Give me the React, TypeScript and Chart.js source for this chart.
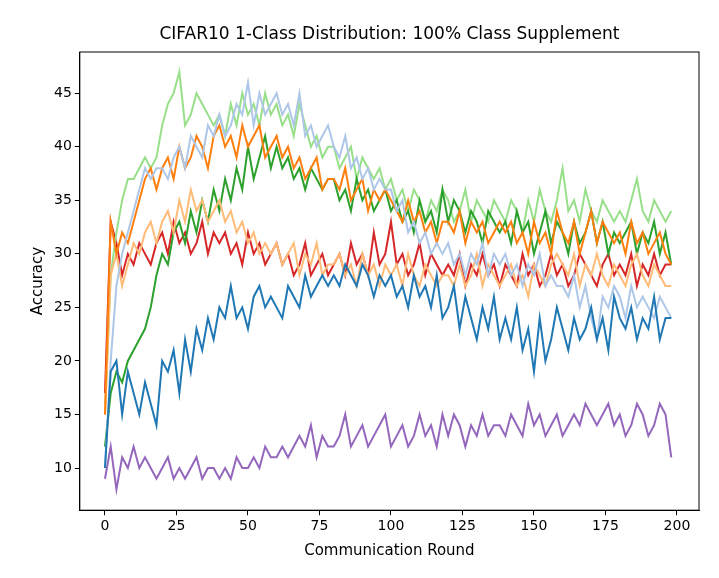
import React, { useEffect, useRef } from "react";
import { Chart, registerables } from "chart.js";
Chart.register(...registerables);

const rounds: number[] = Array.from({ length: 100 }, (_, i) => i * 2);
const blue = [10,19,20,15,19,17,15,18,16,14,20,19,21,17,22,19,23,21,24,22,25,24,27,24,25,23,26,27,25,26,25,24,27,26,25,28,26,27,28,27,28,27,29,28,27,29,28,26,28,27,28,26,27,25,28,26,27,25,28,24,25,27,23,26,24,22,25,23,26,22,24,22,25,21,23,19,24,20,22,25,23,21,24,22,23,25,22,24,21,26,24,23,25,22,24,23,26,22,24,24];
const purple = [9,12,8,11,10,12,10,11,10,9,10,11,9,10,9,10,11,9,10,10,9,10,9,11,10,10,11,10,12,11,11,12,11,12,13,12,14,11,13,12,12,13,15,12,13,14,12,13,14,15,12,13,14,12,13,15,13,14,12,15,13,15,14,12,14,13,15,13,14,14,13,15,14,13,16,14,15,13,14,15,13,14,15,14,16,15,14,15,16,14,15,13,14,16,15,13,14,16,15,11];
const lightGreen = [15,28,32,35,37,37,38,39,38,39,42,44,45,47,42,43,45,44,43,42,43,41,44,42,45,43,44,42,45,43,44,42,43,41,44,42,40,41,39,40,40,38,39,40,37,39,38,37,38,36,37,35,36,34,36,35,33,35,34,36,35,33,34,36,33,35,34,33,35,34,33,35,34,32,35,33,36,34,33,35,38,34,35,33,36,34,33,35,34,33,34,33,35,37,34,33,35,34,33,34];
const lightBlue = [10,20,27,30,32,34,36,38,37,38,38,37,39,40,38,41,40,39,42,41,43,41,42,44,43,46,42,45,43,44,45,43,44,42,45,41,42,40,41,42,40,39,41,38,39,37,38,36,37,36,36,34,35,32,33,31,32,30,31,30,31,29,30,28,30,29,31,28,30,29,30,28,29,27,29,28,30,27,28,27,27,26,28,25,27,24,22,26,25,27,26,24,27,25,26,25,24,26,25,24];
const orange = [15,33,30,32,31,33,35,37,38,36,38,39,37,40,38,39,41,40,38,41,42,40,41,39,42,40,41,42,39,40,41,39,40,38,39,37,38,39,36,37,37,36,38,35,36,37,34,36,35,36,35,34,33,35,33,34,32,33,31,33,33,32,34,31,33,32,33,31,32,33,32,33,31,32,30,33,31,32,30,34,32,31,33,30,32,34,31,33,32,31,32,30,33,31,32,30,31,32,30,29];
const lightOrange = [15,28,30,27,29,31,30,32,33,31,33,34,32,35,33,36,34,35,33,34,35,33,34,32,33,31,32,30,31,30,31,29,30,31,28,30,29,31,28,29,29,30,28,29,27,30,28,29,27,29,28,29,27,30,28,27,29,28,27,28,28,27,29,27,28,30,27,29,28,27,28,29,27,28,26,29,28,27,29,30,29,28,30,27,29,28,30,28,27,29,28,27,29,30,28,27,29,28,27,27];
const green = [12,17,19,18,20,21,22,23,25,28,30,29,32,33,31,34,32,35,33,36,34,37,35,38,36,40,37,39,41,38,40,38,39,37,38,36,38,37,36,37,37,35,36,34,37,35,36,34,35,36,34,35,33,34,32,35,33,34,32,36,33,35,34,32,34,33,31,34,33,32,33,31,34,32,33,30,32,34,31,33,32,30,33,31,32,34,31,33,30,32,31,32,33,30,32,31,33,30,32,29];
const red = [17,33,31,28,30,29,31,30,29,31,32,30,33,31,32,30,31,33,30,32,31,32,30,31,29,32,30,31,29,30,31,29,30,28,29,31,28,29,30,28,29,30,28,31,29,30,28,32,29,30,33,29,30,28,29,31,28,30,29,28,29,28,30,27,29,28,30,28,29,27,29,28,27,30,28,29,27,28,30,28,29,27,28,30,29,28,27,29,30,28,29,28,30,27,29,28,30,28,29,29];
const xTicks = [0, 25, 50, 75, 100, 125, 150, 175, 200];
const yTicks = [10, 15, 20, 25, 30, 35, 40, 45];
const titleText = "CIFAR10 1-Class Distribution: 100% Class Supplement";

const series: [number[], string][] = [
  [blue, "#1f77b4"], [lightBlue, "#aec7e8"], [orange, "#ff7f0e"], [lightOrange, "#ffbb78"],
  [green, "#2ca02c"], [lightGreen, "#98df8a"], [red, "#d62728"], [purple, "#9467bd"],
];

export default function App() {
  const ref = useRef<HTMLCanvasElement>(null);
  useEffect(() => {
    document.body.style.margin = "0";
    const frame = {
      id: "frame",
      beforeDraw(c: any) {
        const ctx = c.ctx;
        ctx.save();
        ctx.fillStyle = "#ffffff";
        ctx.fillRect(0, 0, c.width, c.height);
        ctx.restore();
      },
      afterDraw(c: any) {
        const a = c.chartArea, ctx = c.ctx;
        ctx.save();
        ctx.strokeStyle = "#000";
        ctx.lineWidth = 1;
        ctx.strokeRect(a.left, a.top, a.right - a.left, a.bottom - a.top);
        ctx.fillStyle = "#000";
        ctx.font = "17px 'DejaVu Sans'";
        ctx.textAlign = "center";
        ctx.textBaseline = "bottom";
        ctx.fillText(titleText, (a.left + a.right) / 2, a.top - 9);
        ctx.restore();
      },
    };
    const font = { family: "DejaVu Sans", size: 14 };
    const chart = new Chart(ref.current!, {
      type: "line",
      data: {
        datasets: series.map(([d, c]) => ({
          data: d.map((v, i) => ({ x: rounds[i], y: v })),
          borderColor: c, borderWidth: 2, pointRadius: 0, fill: false, tension: 0,
        })),
      },
      options: {
        animation: false, responsive: false,
        layout: { padding: { left: 25, right: 20, top: 52, bottom: 14 } },
        plugins: { legend: { display: false }, tooltip: { enabled: false } },
        scales: {
          x: {
            type: "linear", min: -8.8, max: 207.7,
            afterBuildTicks: (s: any) => { s.ticks = xTicks.map((v) => ({ value: v })); },
            ticks: { color: "#000", font, maxRotation: 0 },
            grid: { drawOnChartArea: false, tickLength: 5, color: "#000" },
            border: { color: "#000" },
            title: { display: true, text: "Communication Round", color: "#000", font: { family: "DejaVu Sans", size: 15 } },
          },
          y: {
            min: 6.06, max: 48.85,
            afterBuildTicks: (s: any) => { s.ticks = yTicks.map((v) => ({ value: v })); },
            ticks: { color: "#000", font },
            grid: { drawOnChartArea: false, tickLength: 5, color: "#000" },
            border: { color: "#000" },
            title: { display: true, text: "Accuracy", color: "#000", font: { family: "DejaVu Sans", size: 15 } },
          },
        },
      } as any,
      plugins: [frame],
    });
    return () => chart.destroy();
  }, []);
  return (
    <div style={{ width: 719, height: 578, background: "#f4f4f4", padding: 0 }}>
      <canvas ref={ref} width={719} height={578} style={{ display: "block" }} />
    </div>
  );
}
